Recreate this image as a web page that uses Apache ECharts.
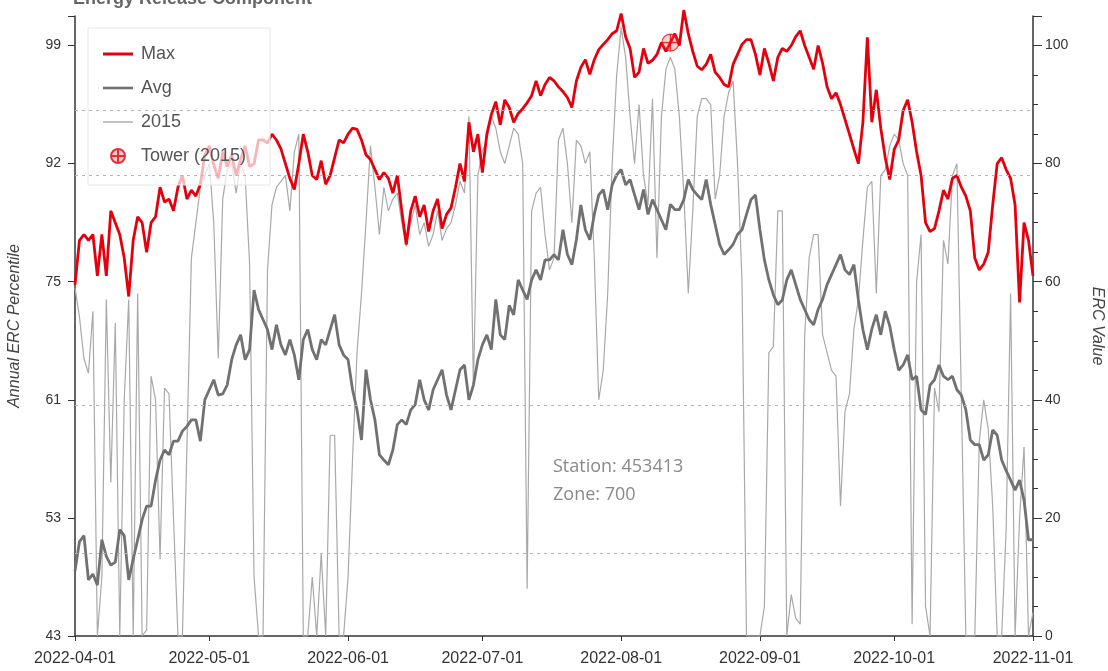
<!DOCTYPE html>
<html>
<head>
<meta charset="utf-8">
<title>Energy Release Component</title>
<script src="https://cdn.jsdelivr.net/npm/echarts@6/dist/echarts.min.js"></script>
<style>
  html, body { margin: 0; padding: 0; background: #fff; }
  #chart { width: 1108px; height: 671px; }
</style>
</head>
<body>
<div id="chart"></div>
<script>
// Daily categories 2022-04-01 .. 2022-11-01
const dates = [];
for (let t = Date.UTC(2022, 3, 1); t <= Date.UTC(2022, 10, 1); t += 86400000) {
    dates.push(new Date(t).toISOString().slice(0, 10));
}

// ERC values, one per day
const maxErc = [
    59.5, 67, 68, 67, 68, 61, 68, 61, 72, 70, 68, 64, 57.5, 67, 71, 70, 65, 70, 71, 76,
    73.5, 74, 72, 76, 78, 74, 75.5, 74.5, 76.5, 81.5,
    83, 79.8, 77.5, 82, 79.5, 81.5, 78, 80.7, 83, 79.5, 80, 84, 84, 83.5, 85, 84, 82.5, 80, 77.5, 75.6,
    80, 85, 82, 78, 77.3, 80.5, 76.5, 78, 81, 84, 83.5,
    85, 86, 85.8, 84, 81.5, 80.7, 79, 77.3, 78.5, 77.5, 75, 78, 72, 66.3, 72, 74.5, 71, 73, 68.5, 72,
    74, 69, 71.4, 72.5, 76, 80, 77, 87, 82, 85,
    78.5, 85, 88.3, 90.5, 86.6, 90.8, 89.5, 87, 88.5, 89.3, 90.3, 91.5, 94, 91.5, 93.4, 94.6, 94, 93, 92.2, 91.2,
    89.5, 94, 96.3, 97.6, 95.1, 97.6, 99.3, 100.2, 101, 102, 102.5,
    105.4, 101.5, 99.5, 94.6, 95.5, 99.5, 97, 97.5, 98.5, 100.5, 99, 100.5, 102, 100, 106, 102, 99, 96.5, 95.9, 96.8,
    98.5, 95.5, 94.6, 93.4, 93, 96.8, 98.5, 100.2, 101, 101, 98.5,
    95, 99.5, 97, 94, 98, 99.5, 99, 100, 101.5, 102.5, 100, 98, 96, 100, 97, 93, 91, 92, 90, 87.5,
    85, 82.4, 80, 87, 101.4, 87, 92.5, 86, 81, 77.3,
    82.4, 84, 89, 90.8, 87, 82, 78, 70, 68.5, 69, 72, 75.5, 74, 77.5, 78, 76, 74.5, 72, 64, 62,
    63, 65, 73, 80, 81, 79, 77.5, 73, 56.5, 70, 67,
    61
];

const avgErc = [
    11, 16, 17, 9.5, 10.5, 8.6, 16.3, 13.5, 12, 12.5, 18, 17, 9.5, 13, 16.3, 19.7, 22, 22, 26.4, 29.8,
    31.5, 30.7, 33, 33, 34.7, 35.5, 36.6, 36.6, 33, 40,
    41.7, 43.4, 40.8, 41, 42.5, 46.8, 49.3, 51, 46.8, 48.5, 58.6, 55.3, 53.6, 51.9, 48.5, 52.7, 49.3, 47.6, 50.2, 47.6,
    43.4, 50.2, 51.9, 48.5, 46.8, 50.2, 49.3, 51.9, 54.4, 49.3, 47.6,
    46.8, 41.7, 38.3, 33.2, 45.1, 40, 36.6, 30.7, 29.8, 29, 31.5, 35.8, 36.6, 35.8, 38.3, 39.2, 43.4, 40, 38.3, 41.7,
    43.4, 45.1, 40.8, 38.3, 41.7, 45.1, 45.9, 40, 42.5, 46.8,
    49.3, 51, 48.5, 57, 51, 50.2, 56, 54.4, 60.3, 58.6, 57, 60.3, 62, 60.3, 63.7, 63.7, 64.6, 63.7, 68.8, 64.6,
    62.9, 67.1, 73, 68.8, 67.1, 71.4, 74.7, 75.6, 72.2, 76.4, 78.1,
    79, 76.4, 77.3, 74.7, 72.2, 75.6, 71.4, 73.9, 72.2, 70.5, 68.8, 73.1, 72.2, 72.2, 73.9, 77.3, 75.6, 74.7, 73.9, 77.3,
    73.1, 69.7, 66.3, 64.6, 65.4, 66.3, 68, 68.8, 71.4, 73.9, 74.7,
    68.8, 63.7, 60.3, 57.8, 56.1, 56.9, 60.3, 62, 59.5, 57, 55.3, 53.6, 52.7, 55.3, 57, 59.5, 61.2, 62.9, 64.6, 62,
    61.2, 62.9, 56.9, 51.9, 48.5, 52, 54.4, 51, 55, 52.5,
    48.5, 45, 45.9, 47.6, 43.4, 44, 38.3, 37.5, 42.5, 43.4, 45.9, 44, 43.4, 44, 41.7, 40.8, 38.3, 33.2, 32.4, 32.4,
    29.8, 30.7, 34.9, 34, 29.8, 28, 26.4, 24.7, 26.4, 23, 16.3,
    16.3
];

const erc2015 = [
    59, 54, 47, 44.5, 55, 0, 10, 57, 26, 53, 0, 40, 57, 0, 58, 0, 1, 44, 40, 13,
    42, 41, 20, 0, 0, 32, 64, 70, 76, 78,
    80, 70, 47, 74, 79, 80, 75, 80, 78, 63, 10, 0, 0, 62, 73, 76, 77, 78, 72, 82,
    85, 0, 0, 10, 0, 14, 0, 34, 34, 0, 0,
    10, 30, 48, 58, 70, 83, 76, 68, 76, 72, 74, 75, 70, 66, 70, 73, 68, 70, 66, 68,
    72, 67, 69, 70, 73, 77, 75, 88, 42, 78,
    82, 84, 88, 86, 82, 80, 83, 86, 85, 80, 8, 72, 75, 76, 68, 62, 64, 84, 86, 80,
    70, 84, 83, 80, 82, 64, 40, 45, 58, 80, 95,
    103, 98, 88, 80, 90, 78, 73, 91, 64, 88, 96, 98, 96, 88, 75, 58, 72, 88, 91, 91,
    90, 74, 78, 88, 92, 94, 80, 60, 0, 0, 0,
    0, 5, 48, 49, 72, 72, 0, 7, 3, 2, 51, 64, 68, 68, 51, 48, 45, 44, 22, 38,
    41, 52, 57, 67, 76, 77, 58, 78, 79, 83,
    85, 84, 80, 78, 2, 60, 68, 5, 0, 42, 38, 67, 63, 78, 80, 40, 0, 0, 0, 33,
    40, 35, 22, 0, 0, 18, 58, 0, 20, 32, 0,
    4
];

const towerDates = ['2022-08-12'];
const towerErc = [100.5];

// Axis ticks: ERC value on the right, matching annual percentile on the left
const ercTicks = [0, 20, 40, 60, 80, 100];
const pctLabels = ['43', '53', '61', '75', '92', '99'];
// Dotted reference levels (ERC)
const refLevels = [89, 78, 39, 14];

const RED = '#e5000e';
const DARK = '#717171';
const LIGHT = '#a9a9a9';

const chart = echarts.init(document.getElementById('chart'));

const crossCircle = 'path://M0,-10A10,10 0 1,1 0,10A10,10 0 1,1 0,-10ZM-10,0L10,0M0,-10L0,10';

chart.setOption({
    animation: false,
    textStyle: { fontFamily: 'Arial, "Liberation Sans", sans-serif' },
    title: {
        text: 'Energy Release Component',
        left: 68,
        top: -15,
        textStyle: { fontSize: 18, fontWeight: 'bold', color: '#666' }
    },
    legend: {
        data: [
            { name: 'Max', icon: 'path://M0,0H30V3H0Z', itemStyle: { borderWidth: 0 } },
            { name: 'Avg', icon: 'path://M0,0H30V2.6H0Z', itemStyle: { borderWidth: 0 } },
            { name: '2015', icon: 'path://M0,0H30V1.4H0Z', itemStyle: { borderWidth: 0 } },
            { name: 'Tower (2015)' }
        ],
        orient: 'vertical',
        left: 88,
        top: 28,
        padding: [17, 24, 20, 15],
        itemGap: 16,
        itemWidth: 30,
        itemHeight: 14,
        backgroundColor: 'rgba(255, 255, 255, 0.7)',
        borderColor: '#e6e6e6',
        borderWidth: 1,
        textStyle: { color: '#555', fontSize: 18, padding: [0, 0, 0, 3] }
    },
    grid: { left: 75, right: 75, top: 16, bottom: 35, outerBoundsMode: 'none' },
    xAxis: {
        type: 'category',
        data: dates,
        boundaryGap: false,
        axisLine: { lineStyle: { color: '#333', width: 1.5 } },
        axisTick: {
            length: 5,
            lineStyle: { color: '#333' },
            interval: (i, v) => v.endsWith('-01')
        },
        axisLabel: {
            color: '#333',
            fontSize: 16,
            margin: 15,
            interval: (i, v) => v.endsWith('-01')
        },
        splitLine: { show: false }
    },
    yAxis: [
        {
            type: 'value',
            position: 'left',
            min: 0,
            max: 105,
            interval: 20,
            name: 'Annual ERC Percentile',
            nameLocation: 'middle',
            nameGap: 52,
            nameTextStyle: { fontStyle: 'italic', color: '#444', fontSize: 16 },
            axisLine: { show: true, lineStyle: { color: '#333', width: 1.5 } },
            axisTick: { show: true, length: 7, lineStyle: { color: '#333' } },
            axisLabel: {
                color: '#333',
                fontSize: 14,
                margin: 14,
                formatter: v => {
                    const i = ercTicks.indexOf(v);
                    return i >= 0 ? pctLabels[i] : '';
                }
            },
            splitLine: { show: false }
        },
        {
            type: 'value',
            position: 'right',
            min: 0,
            max: 105,
            interval: 20,
            name: 'ERC Value',
            nameLocation: 'middle',
            nameRotate: -90,
            nameGap: 56,
            nameTextStyle: { fontStyle: 'italic', color: '#444', fontSize: 16 },
            axisLine: { show: true, lineStyle: { color: '#333', width: 1.5 } },
            axisTick: { show: true, length: 9, lineStyle: { color: '#333' } },
            minorTick: { show: true, splitNumber: 4, length: 5, lineStyle: { color: '#333' } },
            axisLabel: {
                color: '#333',
                fontSize: 14,
                margin: 12,
                formatter: v => (ercTicks.indexOf(v) >= 0 ? String(v) : '')
            },
            splitLine: { show: false }
        }
    ],
    graphic: [{
        type: 'text',
        left: 553,
        top: 453,
        style: {
            text: 'Station: 453413\nZone: 700',
            fill: '#8a8a8a',
            font: '18px "Open Sans", sans-serif',
            lineHeight: 28
        }
    }],
    series: [
        {
            name: '2015',
            type: 'line',
            yAxisIndex: 1,
            data: erc2015,
            symbol: 'none',
            clip: false,
            lineStyle: { color: LIGHT, width: 1.2 },
            itemStyle: { color: LIGHT }
        },
        {
            name: 'Avg',
            type: 'line',
            yAxisIndex: 1,
            data: avgErc,
            symbol: 'none',
            clip: false,
            lineStyle: { color: DARK, width: 2.8 },
            itemStyle: { color: DARK }
        },
        {
            name: 'Max',
            type: 'line',
            yAxisIndex: 1,
            data: maxErc,
            symbol: 'none',
            clip: false,
            lineStyle: { color: RED, width: 2.8 },
            itemStyle: { color: RED },
            markLine: {
                silent: true,
                symbol: ['none', 'none'],
                label: { show: false },
                lineStyle: { type: [3, 4], color: '#b5b5b5', width: 1 },
                data: refLevels.map(v => ({ yAxis: v }))
            }
        },
        {
            name: 'Tower (2015)',
            type: 'scatter',
            yAxisIndex: 1,
            data: towerDates.map((d, i) => [d, towerErc[i]]),
            symbol: crossCircle,
            symbolSize: 17,
            itemStyle: {
                color: 'rgba(255, 80, 80, 0.35)',
                borderColor: RED,
                borderWidth: 1.2
            },
            z: 5
        }
    ]
});

window.addEventListener('resize', function () {
    chart.resize();
});
</script>
</body>
</html>
